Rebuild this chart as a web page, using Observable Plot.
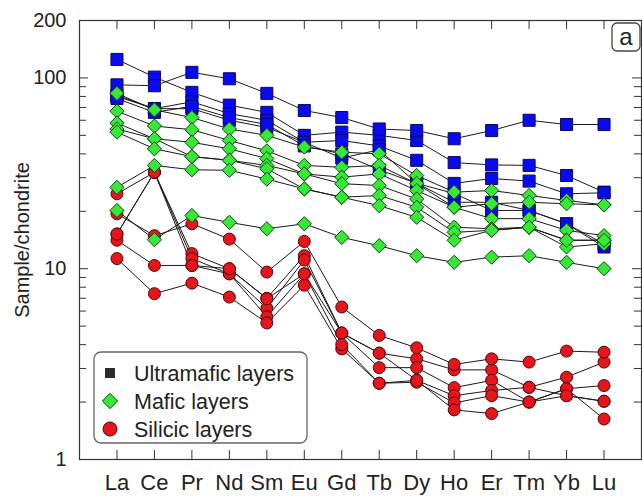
<!DOCTYPE html>
<html><head><meta charset="utf-8">
<script src="https://cdn.jsdelivr.net/npm/d3@7"></script>
<script src="https://cdn.jsdelivr.net/npm/@observablehq/plot@0.6"></script>
<style>body{margin:0;background:#fff}#chart{width:642px;height:497px}</style>
</head><body><div id="chart"></div>
<script>
const elements = ["La","Ce","Pr","Nd","Sm","Eu","Gd","Tb","Dy","Ho","Er","Tm","Yb","Lu"];
const yTickLabels = [1, 10, 100, 200];
const legendLabels = ["Ultramafic layers", "Mafic layers", "Silicic layers"];
const panelLabel = "a";

const ultramafic = [
  [125, 101, 84, 72, 66, 50, 52, 50, 47, 36, 35, 34.8, 30.8, 25.2],
  [92, 91, 107, 99, 83, 67.5, 62, 54, 53, 48, 53, 60, 57, 57],
  [81, 69, 75, 65, 60, 46, 47, 44, 37, 28, 29.7, 28.8, 24.7, 25],
  [80, 69, 69, 60, 55, 46, 38, 42, 28, 22.3, 22.3, 20.2, 17.2, 13],
  [78, 66, 71, 62, 57, 44, 40, 33, 28, 24.8, 20.2, 20.2, 17.2, 13.5]
];
const mafic = [
  [83, 68, 62, 54, 50, 43.4, 40.8, 40, 30.8, 25.2, 25.7, 24.2, 22.8, 21.6],
  [67, 56, 53.5, 47, 41.5, 34.8, 34, 34.8, 27.9, 21, 21.9, 22.3, 21.9, 21.6],
  [58, 48, 46, 42.5, 37.8, 31.4, 30.2, 31.4, 25.7, 21, 18.3, 18.3, 15.9, 14.9],
  [54, 48, 38.7, 37, 34.8, 31.4, 27.9, 27.3, 23.2, 16.5, 16.2, 16.5, 14.1, 14.1],
  [52, 42.5, 38.7, 37, 33.4, 26.2, 23.7, 24.2, 21, 15.5, 15.9, 16.5, 13, 13.5],
  [26.7, 34.8, 33, 32.8, 29.5, 26.2, 23.7, 21.4, 18.6, 14.1, 15.9, 16.5, 14.1, 14.1],
  [20.2, 14.2, 19, 17.5, 16.2, 17.2, 14.6, 13.2, 11.7, 10.8, 11.5, 11.7, 10.8, 10]
];
const silicic = [
  [24.7, 32, 12, 10, 7, 11.7, 4.6, 3.61, 3.37, 2.95, 2.95, 2.39, 2.7, 3.24],
  [19.4, 14.9, 17.2, 14.3, 9.6, 13.9, 6.3, 4.47, 3.85, 3.15, 3.37, 3.24, 3.7, 3.65],
  [15.2, 32, 11.3, 9.4, 6.2, 11.1, 4.6, 3.03, 3.03, 2.38, 2.6, 2.0, 2.35, 2.44],
  [14.1, 10.4, 10.4, 9.4, 5.6, 9.4, 4.6, 3.61, 2.6, 2.16, 2.3, 2.39, 2.16, 2.02],
  [11.3, 7.4, 8.4, 7.1, 5.2, 8.2, 3.8, 2.51, 2.54, 1.98, 2.16, 2.0, 2.35, 1.63],
  [15.2, 32, 10.4, 10, 6.96, 9.4, 4.0, 2.51, 2.6, 1.82, 1.74, 2.0, 2.16, 2.02]
];

function toRows(group, series) {
  const rows = [];
  series.forEach((vals, s) => vals.forEach((v, i) => rows.push({group, id: group + s, i, el: elements[i], v})));
  return rows;
}
const uRows = toRows("U", ultramafic);
const mRows = toRows("M", mafic);
const sRows = toRows("S", silicic);
const allRows = [...uRows, ...sRows, ...mRows];

const W = 642, H = 497, ML = 79, MR = 1, MT = 20, MB = 38;
const xDomain = [-1, 14], yDomain = [1, 200];
const pxPerX = (W - ML - MR) / (xDomain[1] - xDomain[0]);
const pxPerDec = (H - MT - MB) / Math.log10(yDomain[1] / yDomain[0]);
const xLen = px => px / pxPerX;
const yMul = px => Math.pow(10, px / pxPerDec);

const majorT = [10, 100];
const minorT = [2,3,4,5,6,7,8,9,20,30,40,50,60,70,80,90];
const idx = elements.map((_, i) => i);
const axisColor = "#333";
const FONT = "'Liberation Sans', Arial, Helvetica, sans-serif";

const chart = Plot.plot({
  width: W, height: H,
  marginLeft: ML, marginRight: MR, marginTop: MT, marginBottom: MB,
  style: {fontFamily: FONT, fontSize: "20px", color: "#222", background: "#fff", overflow: "visible"},
  x: {type: "linear", domain: xDomain, axis: null, label: null},
  y: {type: "log", domain: yDomain, axis: null, label: null},
  marks: [
    Plot.ruleY(majorT, {y: d => d, x1: xDomain[0], x2: xDomain[0] + xLen(9), stroke: axisColor}),
    Plot.ruleY(minorT, {y: d => d, x1: xDomain[0], x2: xDomain[0] + xLen(7), stroke: axisColor}),
    Plot.ruleY(majorT, {y: d => d, x1: xDomain[1], x2: xDomain[1] - xLen(9), stroke: axisColor}),
    Plot.ruleY(minorT, {y: d => d, x1: xDomain[1], x2: xDomain[1] - xLen(7), stroke: axisColor}),
    Plot.ruleX(idx, {x: d => d, y1: yDomain[0], y2: yDomain[0] * yMul(9), stroke: axisColor}),
    Plot.ruleX(idx, {x: d => d, y1: yDomain[1], y2: yDomain[1] / yMul(9), stroke: axisColor}),
    Plot.frame({stroke: axisColor, strokeWidth: 1.2}),
    Plot.axisX({ticks: idx, tickFormat: i => elements[i], tickSize: 0, tickPadding: 15, fontSize: 22, fill: "#222", label: null}),
    Plot.axisY({ticks: yTickLabels, tickFormat: d => String(d), tickSize: 0, tickPadding: 13, fontSize: 20, fill: "#222", label: null}),
    Plot.text(["Sample/chondrite"], {text: d => d, frameAnchor: "left", textAnchor: "middle", rotate: -90, dx: -57, fontSize: 20, fill: "#222"}),
    Plot.line(allRows, {x: "i", y: "v", z: "id", stroke: "#1a1a1a", strokeWidth: 1}),
    Plot.dot(uRows, {x: "i", y: "v", symbol: "square", r: 6.8, fill: "#0a0af0", stroke: "#0a0a60", strokeWidth: 1}),
    Plot.dot(sRows, {x: "i", y: "v", symbol: "circle", r: 6, fill: "#e8141c", stroke: "#4a0a0a", strokeWidth: 1}),
    Plot.dot(mRows, {x: "i", y: "v", symbol: "diamond2", r: 6.4, fill: "#38e838", stroke: "#0b4a0b", strokeWidth: 1})
  ]
});

const svg = d3.select(chart);
const lg = svg.append("g").attr("text-anchor", "start");
lg.append("rect").attr("x", 94).attr("y", 352).attr("width", 213).attr("height", 91).attr("rx", 7)
  .attr("fill", "#fff").attr("stroke", "#666").attr("stroke-width", 1.3);
const rowsY = [373, 401, 429];
lg.append("rect").attr("x", 105).attr("y", rowsY[0] - 5).attr("width", 10).attr("height", 10).attr("fill", "#2b2b2b");
lg.append("path").attr("d", d3.symbol(d3.symbolDiamond2, 150)()).attr("transform", `translate(110,${rowsY[1]})`)
  .attr("fill", "#38e838").attr("stroke", "#0b4a0b");
lg.append("circle").attr("cx", 110).attr("cy", rowsY[2]).attr("r", 7).attr("fill", "#e8141c").attr("stroke", "#4a0a0a");
legendLabels.forEach((t, k) => {
  lg.append("text").attr("x", 134).attr("y", rowsY[k]).attr("dy", "0.35em").attr("font-size", 21.5)
    .attr("text-anchor", "start").attr("font-family", FONT).attr("fill", "#222").text(t);
});
svg.append("rect").attr("x", 612).attr("y", 23).attr("width", 28).attr("height", 28).attr("rx", 5)
  .attr("fill", "#fff").attr("stroke", "#444").attr("stroke-width", 1.3);
svg.append("text").attr("x", 626).attr("y", 37).attr("dy", "0.35em").attr("text-anchor", "middle")
  .attr("font-size", 24).attr("font-family", FONT).attr("fill", "#222").text(panelLabel);

document.getElementById("chart").appendChild(chart);
</script>
</body></html>
